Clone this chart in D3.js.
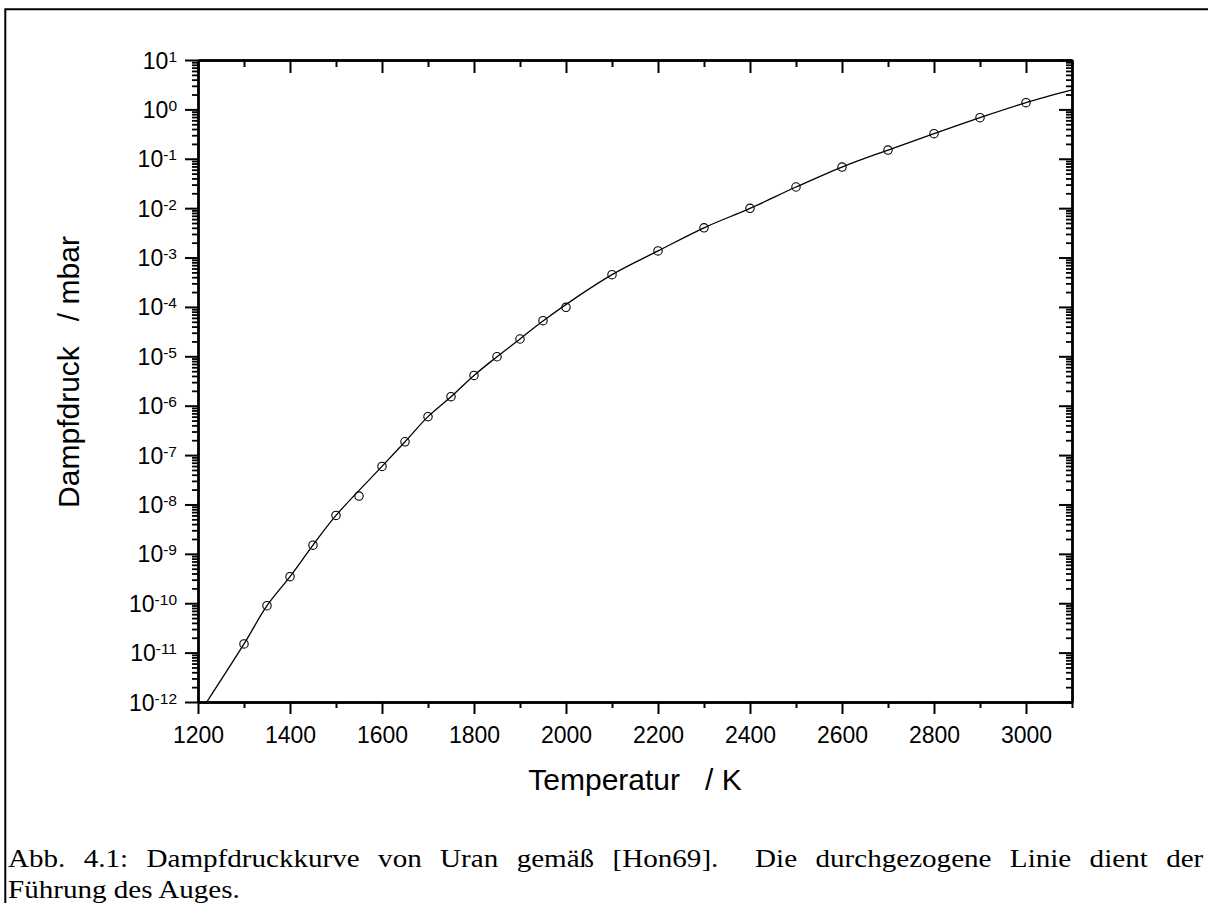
<!DOCTYPE html>
<html>
<head>
<meta charset="utf-8">
<script src="https://cdn.jsdelivr.net/npm/d3@7"></script>
<style>
  body { margin: 0; background: #fff; }
  svg { display: block; }
</style>
</head>
<body>
<div id="chart"></div>
<script>
// measured points (Hon69), T in K, p in mbar
var temps = [1300, 1350, 1400, 1450, 1500, 1550, 1600, 1650, 1700, 1750, 1800, 1850, 1900, 1950, 2000,
             2100, 2200, 2300, 2400, 2500, 2600, 2700, 2800, 2900, 3000];
var pressures = [1.5e-11, 8.9e-11, 3.45e-10, 1.5e-9, 6.0e-9, 1.48e-8, 5.9e-8, 1.86e-7, 6.0e-7, 1.52e-6,
                 4.1e-6, 9.8e-6, 2.24e-5, 5.26e-5, 9.8e-5, 4.5e-4, 1.36e-3, 4.0e-3, 9.9e-3, 2.68e-2,
                 6.8e-2, 0.150, 0.322, 0.68, 1.37];

// guide line support points
var lineTemps = [1219, 1300, 1350, 1400, 1450, 1500, 1600, 1650, 1700, 1750, 1800, 1850, 1900, 1950,
                 2100, 2200, 2300, 2400, 2500, 2600, 2700, 2800, 2900, 3000, 3100];
var linePressures = [1e-12, 1.5e-11, 8.9e-11, 3.45e-10, 1.5e-9, 6.0e-9, 5.9e-8, 1.86e-7, 6.0e-7, 1.52e-6,
                     4.1e-6, 9.8e-6, 2.24e-5, 5.2e-5, 4.5e-4, 1.36e-3, 4.0e-3, 9.9e-3, 2.68e-2,
                     6.8e-2, 0.150, 0.322, 0.68, 1.37, 2.47];

var xMajor = [1200, 1400, 1600, 1800, 2000, 2200, 2400, 2600, 2800, 3000];
var xMinor = [1300, 1500, 1700, 1900, 2100, 2300, 2500, 2700, 2900, 3100];
var yExponents = [1, 0, -1, -2, -3, -4, -5, -6, -7, -8, -9, -10, -11, -12];

var width = 1208, height = 903;
var mLeft = 198, mRight = 1072, mTop = 60, mBottom = 702;
var sans = "'Liberation Sans', Arial, sans-serif";

var svg = d3.select("#chart").append("svg")
  .attr("width", width)
  .attr("height", height);

svg.append("rect").attr("width", width).attr("height", height).attr("fill", "#fff");

// frame of the figure (only top and left visible)
svg.append("path")
  .attr("d", "M5.3," + height + "V9.3H" + width)
  .attr("fill", "none")
  .attr("stroke", "#000")
  .attr("stroke-width", 2);

var x = d3.scaleLinear().domain([1200, 3100]).range([mLeft, mRight]);
var y = d3.scaleLog().domain([1e-12, 10]).range([mBottom, mTop]);

// minor ticks of the log axis: 2..9 in every decade
var yMinor = [];
yExponents.slice(1).forEach(function(e) {
  for (var k = 2; k <= 9; k++) yMinor.push(k * Math.pow(10, e));
});
var yMajor = yExponents.map(function(e) { return Math.pow(10, e); });

function styleAxis(g, w) {
  g.select(".domain").attr("stroke-width", 2.4);
  g.selectAll(".tick line").attr("stroke-width", w);
  g.selectAll(".tick text").remove();
}

// bottom + top (ticks pointing down on both)
[mBottom, mTop].forEach(function(pos, i) {
  svg.append("g").attr("transform", "translate(0," + pos + ")")
    .call(d3.axisBottom(x).tickValues(xMinor).tickSize(i ? 7 : 6).tickSizeOuter(0).tickFormat(""))
    .call(styleAxis, 2);
  var g = svg.append("g").attr("transform", "translate(0," + pos + ")")
    .call(d3.axisBottom(x).tickValues(xMajor).tickSize(i ? 13 : 12).tickSizeOuter(0).tickFormat(""))
    .call(styleAxis, 2);
  if (!i) {
    g.selectAll(".tick").append("text")
      .attr("y", 41)
      .attr("text-anchor", "middle")
      .style("font-family", sans)
      .style("font-size", "23px")
      .attr("fill", "#000")
      .text(function(d) { return d; });
  }
});

// left + right (ticks pointing left on both)
[mLeft, mRight].forEach(function(pos, i) {
  svg.append("g").attr("transform", "translate(" + pos + ",0)")
    .call(d3.axisLeft(y).tickValues(yMinor).tickSize(6).tickSizeOuter(0).tickFormat(""))
    .call(styleAxis, 1.8);
  var g = svg.append("g").attr("transform", "translate(" + pos + ",0)")
    .call(d3.axisLeft(y).tickValues(yMajor).tickSize(13).tickSizeOuter(0).tickFormat(""))
    .call(styleAxis, 2);
  if (!i) {
    var t = g.selectAll(".tick").append("text")
      .attr("x", -21)
      .attr("y", 8)
      .attr("text-anchor", "end")
      .style("font-family", sans)
      .attr("fill", "#000");
    t.append("tspan").style("font-size", "23px").text("10");
    t.append("tspan").style("font-size", "15.5px").attr("dy", -7)
      .text(function(d) { return Math.round(Math.log10(d)); });
  }
});

// guide line
var line = d3.line()
  .x(function(d) { return x(d[0]); })
  .y(function(d) { return y(d[1]); })
  .curve(d3.curveCatmullRom.alpha(0.5));

svg.append("path")
  .datum(d3.zip(lineTemps, linePressures))
  .attr("d", line)
  .attr("fill", "none")
  .attr("stroke", "#000")
  .attr("stroke-width", 1.3);

// data points
svg.append("g").selectAll("circle")
  .data(d3.zip(temps, pressures))
  .enter().append("circle")
  .attr("cx", function(d) { return x(d[0]); })
  .attr("cy", function(d) { return y(d[1]); })
  .attr("r", 4.2)
  .attr("fill", "none")
  .attr("stroke", "#000")
  .attr("stroke-width", 1.1);

// axis titles
svg.append("text")
  .attr("x", (mLeft + mRight) / 2)
  .attr("y", 790)
  .attr("text-anchor", "middle")
  .style("font-family", sans)
  .style("font-size", "30px")
  .style("white-space", "pre")
  .text("Temperatur   / K");

svg.append("text")
  .attr("transform", "translate(79,372) rotate(-90)")
  .attr("text-anchor", "middle")
  .style("font-family", sans)
  .style("font-size", "30px")
  .style("white-space", "pre")
  .text("Dampfdruck   / mbar");

// caption: glyphs widened a little (Computer Modern is wider than Times),
// first line justified with word spacing
var serif = "'Liberation Serif', 'Times New Roman', serif";
var cap = svg.append("g");
var cap1 = "Abb. 4.1: Dampfdruckkurve von Uran gemäß [Hon69].  Die durchgezogene Linie dient der";
var c1 = cap.append("text")
  .attr("y", 867)
  .style("font-family", serif)
  .style("font-size", "25px")
  .style("white-space", "pre")
  .text(cap1);
var c2 = cap.append("text")
  .attr("y", 898)
  .style("font-family", serif)
  .style("font-size", "25px")
  .text("Führung des Auges.");
var s = 232 / c2.node().getComputedTextLength();
var n1 = c1.node().getComputedTextLength();
c1.style("word-spacing", Math.max(0, (1196 / s - n1) / (cap1.split(" ").length - 1)) + "px");
cap.attr("transform", "translate(8,0) scale(" + s + ",1)");
</script>
</body>
</html>
